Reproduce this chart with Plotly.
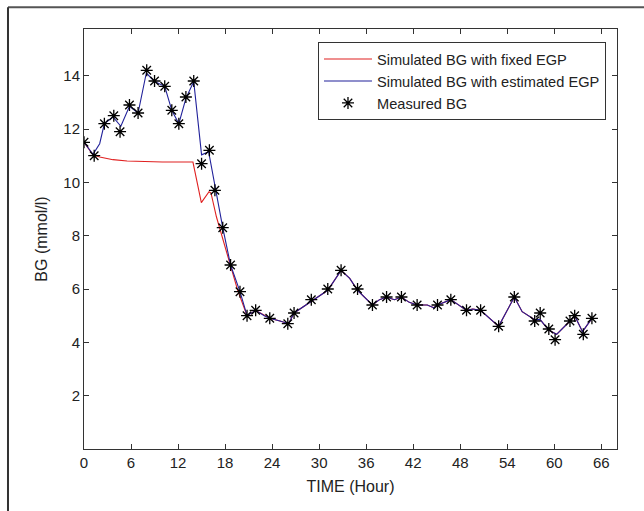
import plotly.graph_objects as go

# Measured BG (asterisks)
meas_t = [0, 1.3, 2.6, 3.8, 4.6, 5.8, 6.9, 8.0, 9.0, 10.3, 11.2, 12.1, 13.0, 14.0, 15.0, 16.0,
          16.7, 17.7, 18.7, 19.9, 20.8, 21.9, 23.7, 26.0, 26.8, 29.0, 31.1, 32.8, 34.9, 36.8,
          38.6, 40.5, 42.5, 45.1, 46.8, 48.8, 50.6, 52.9, 54.9, 57.5, 58.2, 59.3, 60.1, 62.0,
          62.6, 63.7, 64.8]
meas_bg = [11.5, 11.0, 12.2, 12.5, 11.9, 12.9, 12.6, 14.2, 13.8, 13.6, 12.7, 12.2, 13.2, 13.8,
           10.7, 11.2, 9.7, 8.3, 6.9, 5.9, 5.0, 5.2, 4.9, 4.7, 5.1, 5.6, 6.0, 6.7, 6.0, 5.4,
           5.7, 5.7, 5.4, 5.4, 5.6, 5.2, 5.2, 4.6, 5.7, 4.8, 5.1, 4.5, 4.1, 4.8, 5.0, 4.3, 4.9]

# Simulated BG with estimated EGP (blue)
est_t = [0, 1.15, 2.0, 2.6, 3.7, 4.7, 5.8, 6.9, 7.95, 9.0, 10.3, 11.2, 12.1, 13.0, 14.0, 15.0,
         15.9, 16.8, 17.7, 18.7, 19.9, 20.8, 21.9, 23.0, 23.7, 25.0, 26.1, 26.8, 29.0, 31.1,
         32.8, 33.9, 34.9, 36.8, 37.7, 38.6, 39.6, 40.5, 41.5, 42.5, 43.8, 44.6, 45.1, 46.8,
         48.8, 49.6, 50.6, 51.6, 52.9, 54.9, 55.9, 57.5, 58.2, 59.3, 60.3, 62.0, 62.6, 63.6, 64.8]
est_bg = [11.5, 11.05, 11.45, 12.2, 12.45, 12.1, 12.85, 12.6, 14.1, 13.78, 13.6, 12.7, 12.2,
          13.15, 13.78, 11.03, 11.15, 9.7, 8.3, 6.9, 5.9, 5.0, 5.2, 5.0, 4.9, 4.8, 4.7, 5.1,
          5.55, 5.95, 6.7, 6.4, 5.95, 5.4, 5.6, 5.7, 5.6, 5.7, 5.5, 5.4, 5.4, 5.3, 5.4, 5.6,
          5.2, 5.25, 5.2, 4.95, 4.6, 5.7, 5.15, 4.85, 4.85, 4.45, 4.3, 4.8, 5.0, 4.4, 4.9]

# Simulated BG with fixed EGP (red): differs from the blue curve up to ~21 h
fix_t_early = [0, 1.15, 2.0, 3.7, 5.5, 7.5, 10.0, 13.9, 14.97, 15.95, 16.2, 16.9, 17.7,
               18.6, 19.6, 20.7]
fix_bg_early = [11.5, 11.03, 10.95, 10.85, 10.8, 10.77, 10.76, 10.76, 9.24, 9.65, 9.6,
                8.7, 7.84, 6.97, 5.96, 5.03]
tail_start = 22
fix_t = fix_t_early + est_t[tail_start - 1:]
fix_bg = fix_bg_early + est_bg[tail_start - 1:]

x_ticks = list(range(0, 67, 6))
y_ticks = [2, 4, 6, 8, 10, 12, 14]

FONT = "Liberation Sans, Arial, sans-serif"

fig = go.Figure()
fig.add_trace(go.Scatter(x=fix_t, y=fix_bg, mode="lines", name="Simulated BG with fixed EGP",
                         line=dict(color="#e02020", width=1.1)))
fig.add_trace(go.Scatter(x=est_t, y=est_bg, mode="lines", name="Simulated BG with estimated EGP",
                         line=dict(color="#20209a", width=1.1)))
fig.add_trace(go.Scatter(x=meas_t, y=meas_bg, mode="markers", name="Measured BG",
                         marker=dict(symbol="asterisk-open", size=10, color="black",
                                     line=dict(color="black", width=1.3))))

axis_common = dict(showline=True, mirror="ticks", linecolor="#333", linewidth=1,
                   ticks="inside", ticklen=5, tickcolor="#333", showgrid=False,
                   zeroline=False, tickfont=dict(family=FONT, size=15, color="#222"))

fig.update_layout(
    width=644, height=511,
    margin=dict(l=84, r=27, t=29, b=62),
    paper_bgcolor="white", plot_bgcolor="white",
    font=dict(family=FONT, size=15, color="#222"),
    xaxis=dict(range=[0, 68], tickvals=x_ticks,
               title=dict(text="TIME (Hour)", font=dict(family=FONT, size=16, color="#222"), standoff=10),
               **axis_common),
    yaxis=dict(range=[0, 15.75], tickvals=y_ticks,
               title=dict(text="BG (mmol/l)", font=dict(family=FONT, size=16, color="#222"), standoff=11),
               **axis_common),
    legend=dict(x=0.439, y=0.969, xanchor="left", yanchor="top",
                bgcolor="white", bordercolor="#333", borderwidth=1,
                font=dict(family=FONT, size=14.6, color="#222"), itemwidth=48,
                tracegroupgap=0),
    showlegend=True,
    shapes=[
        dict(type="line", xref="paper", yref="paper", x0=-0.1426, x1=1.06, y0=1.052, y1=1.052,
             line=dict(color="#555", width=2)),
        dict(type="line", xref="paper", yref="paper", x0=-0.1426, x1=-0.1426, y0=1.052, y1=-0.16,
             line=dict(color="#333", width=2)),
    ],
)

fig.write_html("out.html", config={"displayModeBar": False},
               post_script="document.body.style.margin='0px';document.body.style.overflow='hidden';")
